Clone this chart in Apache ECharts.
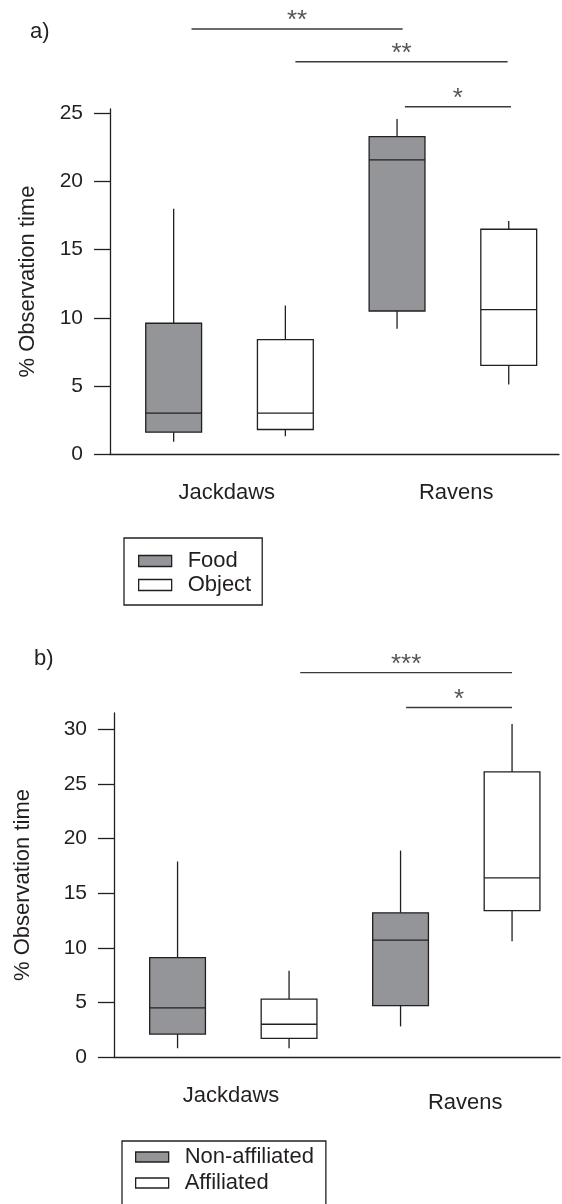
<!DOCTYPE html>
<html>
<head>
<meta charset="utf-8">
<script src="https://cdn.jsdelivr.net/npm/echarts@6/dist/echarts.min.js"></script>
<style>
  html, body { margin: 0; padding: 0; background: #fff; }
  #chart { width: 562px; height: 1204px; }
</style>
</head>
<body>
<div id="chart"></div>
<script>
// box values: [min, Q1, median, Q3, max]
const groups = ['Jackdaws', 'Ravens']
const yTicksA = [0, 5, 10, 15, 20, 25]
const yTicksB = [0, 5, 10, 15, 20, 25, 30]

// panel a)
const foodJackdaws = [0.9, 1.6, 3.0, 9.6, 18.0]
const foodRavens = [9.2, 10.5, 21.6, 23.3, 24.6]
const objectJackdaws = [1.3, 1.8, 3.0, 8.4, 10.9]
const objectRavens = [5.1, 6.5, 10.6, 16.5, 17.1]

// panel b)
const nonAffJackdaws = [0.8, 2.1, 4.5, 9.1, 17.9]
const nonAffRavens = [2.8, 4.7, 10.7, 13.2, 18.9]
const affJackdaws = [0.8, 1.7, 3.0, 5.3, 7.9]
const affRavens = [10.6, 13.4, 16.4, 26.1, 30.5]

// significance bars: [from, to, level]
const sigA = [[1.16, 3.05, 31.2], [2.09, 3.99, 28.8], [3.07, 4.02, 25.5]]
const sigAMarks = ['**', '**', '*']
const sigB = [[2.1, 4.0, 35.2], [3.05, 4.0, 32.0]]
const sigBMarks = ['***', '*']

const ink = '#231f20'
const grey = '#949599'
const font = "'Liberation Sans', Arial, sans-serif"

function renderBox(params, api) {
  var x = api.value(0)
  var lo = api.coord([x, api.value(1)])
  var q1 = api.coord([x, api.value(2)])
  var med = api.coord([x, api.value(3)])
  var q3 = api.coord([x, api.value(4)])
  var hi = api.coord([x, api.value(5)])
  var w = api.size([0.5, 0])[0]
  var st = api.style()
  var line = { stroke: ink, lineWidth: 1.3 }
  return {
    type: 'group',
    children: [
      { type: 'line', shape: { x1: lo[0], y1: lo[1], x2: q1[0], y2: q1[1] }, style: line },
      { type: 'line', shape: { x1: q3[0], y1: q3[1], x2: hi[0], y2: hi[1] }, style: line },
      { type: 'rect', shape: { x: q3[0] - w / 2, y: q3[1], width: w, height: q1[1] - q3[1] },
        style: { fill: st.fill, stroke: ink, lineWidth: 1.3 } },
      { type: 'line', shape: { x1: med[0] - w / 2, y1: med[1], x2: med[0] + w / 2, y2: med[1] }, style: line }
    ]
  }
}

function sigRenderer(marks) {
  return function(params, api) {
    var a = api.coord([api.value(0), api.value(2)])
    var b = api.coord([api.value(1), api.value(2)])
    return {
      type: 'group',
      children: [
        { type: 'line', shape: { x1: a[0], y1: a[1], x2: b[0], y2: b[1] }, style: { stroke: '#3a3a3a', lineWidth: 1.4 } },
        { type: 'text', x: (a[0] + b[0]) / 2, y: a[1] + 5,
          style: { text: marks[params.dataIndex], fill: '#555', font: '26px ' + font, textAlign: 'center', textVerticalAlign: 'bottom' } }
      ]
    }
  }
}

function boxSeries(name, idx, color, jack, raven, offs) {
  return {
    name: name,
    type: 'custom',
    xAxisIndex: idx,
    yAxisIndex: idx,
    itemStyle: { color: color, borderColor: ink, borderWidth: 1.2 },
    encode: { x: 0, y: [1, 2, 3, 4, 5] },
    renderItem: renderBox,
    data: [[1 + offs].concat(jack), [3 + offs].concat(raven)]
  }
}

function sigSeries(idx, bars, marks) {
  return {
    type: 'custom',
    xAxisIndex: idx,
    yAxisIndex: idx,
    silent: true,
    clip: false,
    encode: { x: [0, 1], y: 2 },
    renderItem: sigRenderer(marks),
    data: bars
  }
}

function yAxis(idx, max, ticks, gap) {
  return {
    type: 'value',
    gridIndex: idx,
    min: 0,
    max: max,
    name: '% Observation time',
    nameLocation: 'middle',
    nameRotate: 90,
    nameGap: gap,
    nameTextStyle: { fontSize: 22, color: ink, fontFamily: font },
    axisLine: { show: true, lineStyle: { color: ink, width: 1.3 } },
    axisTick: { show: true, length: 16, customValues: ticks, lineStyle: { color: ink, width: 1.3 } },
    axisLabel: { customValues: ticks, margin: 27, fontSize: 21, color: ink, fontFamily: font },
    splitLine: { show: false }
  }
}

function xAxis(idx, max, labelPos, ravensDrop) {
  return {
    type: 'value',
    gridIndex: idx,
    min: 0.43,
    max: max,
    axisLine: { show: true, onZero: false, lineStyle: { color: ink, width: 1.3 } },
    axisTick: { show: false },
    splitLine: { show: false },
    axisLabel: {
      customValues: labelPos,
      margin: 28,
      fontSize: 22,
      color: ink,
      fontFamily: font,
      formatter: function(v) {
        var i = labelPos.indexOf(v)
        return i === 1 && ravensDrop ? '{low|' + groups[i] + '}' : groups[i]
      },
      rich: {
        low: { fontSize: 22, color: ink, fontFamily: font, padding: [ravensDrop || 0, 0, 0, 0] }
      }
    }
  }
}

function legend(names, colors, left, top, h, pad, gap, height) {
  return {
    orient: 'vertical',
    left: left,
    top: top,
    height: height,
    selectedMode: false,
    icon: 'rect',
    itemWidth: 33,
    itemHeight: h,
    itemGap: gap,
    padding: pad,
    borderColor: ink,
    borderWidth: 1.3,
    borderRadius: 0,
    textStyle: { fontSize: 22, color: ink, fontFamily: font, padding: [0, 0, 0, 11] },
    data: names.map(function(n, i) {
      return { name: n, itemStyle: { color: colors[i], borderColor: ink, borderWidth: 1.3 } }
    })
  }
}

const chart = echarts.init(document.getElementById('chart'))
chart.setOption({
  animation: false,
  backgroundColor: '#fff',
  textStyle: { fontFamily: font },
  title: [
    { text: 'a)', left: 30, top: 21, padding: 0, textStyle: { fontSize: 22, fontWeight: 'normal', color: ink, fontFamily: font } },
    { text: 'b)', left: 34, top: 648, padding: 0, textStyle: { fontSize: 22, fontWeight: 'normal', color: ink, fontFamily: font } }
  ],
  grid: [
    { left: 110, right: 3, top: 109, bottom: 750 },
    { left: 114, right: 2, top: 713, bottom: 147 }
  ],
  xAxis: [xAxis(0, 4.45, [1.475, 3.53], 0), xAxis(1, 4.43, [1.48, 3.58], 7)],
  yAxis: [yAxis(0, 25.33, yTicksA, 71), yAxis(1, 31.5, yTicksB, 80)],
  legend: [
    legend(['Food', 'Object'], [grey, '#fff'], 124, 538, 11, [12, 11, 9, 14], 2, 'auto'),
    // box runs off the bottom edge, as in the source figure
    legend(['Non-affiliated', 'Affiliated'], [grey, '#fff'], 122, 1141, 10, [5, 12, 20, 13], 4, 100)
  ],
  series: [
    boxSeries('Food', 0, grey, foodJackdaws, foodRavens, 0),
    boxSeries('Object', 0, '#fff', objectJackdaws, objectRavens, 1),
    sigSeries(0, sigA, sigAMarks),
    boxSeries('Non-affiliated', 1, grey, nonAffJackdaws, nonAffRavens, 0),
    boxSeries('Affiliated', 1, '#fff', affJackdaws, affRavens, 1),
    sigSeries(1, sigB, sigBMarks)
  ]
})
</script>
</body>
</html>
